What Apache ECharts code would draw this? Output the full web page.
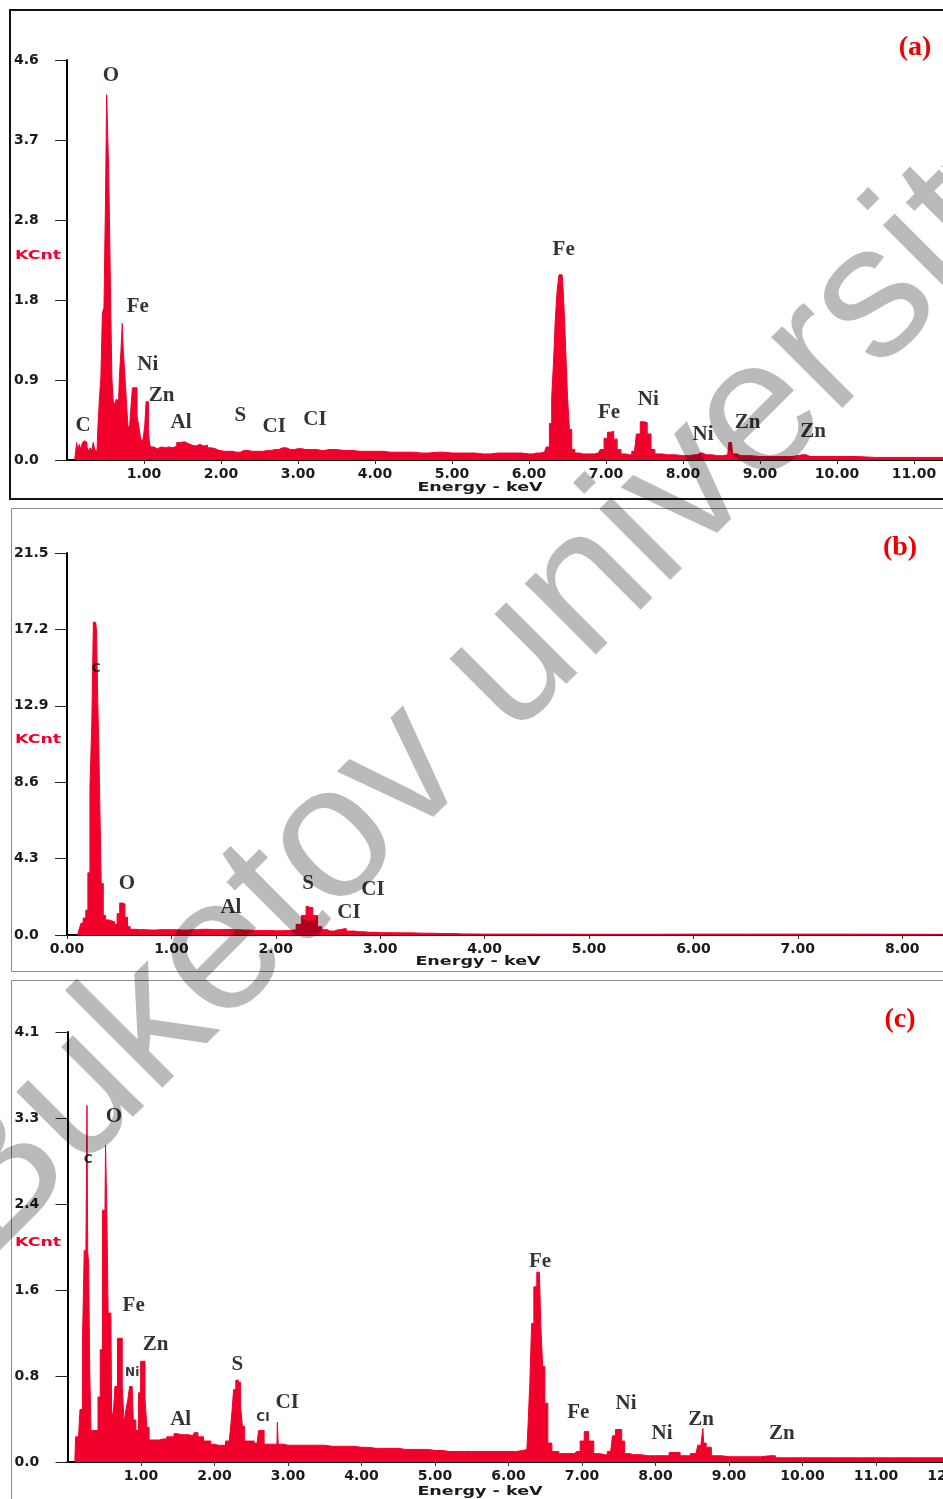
<!DOCTYPE html>
<html>
<head>
<meta charset="utf-8">
<script src="https://cdn.jsdelivr.net/npm/echarts@6/dist/echarts.min.js"></script>
<style>
html,body{margin:0;padding:0;background:#fff;overflow:hidden;}
#chart{width:1000px;height:1499px;}
</style>
</head>
<body>
<div id="chart"></div>
<script>
// ---------- DATA ----------
// Panel (a) spectrum: energy (keV) and counts (KCnt)
const energyA = [0.10,0.12,0.13,0.15,0.17,0.19,0.21,0.23,0.25,0.27,0.29,0.31,0.33,0.35,0.37,0.39,0.41,0.43,0.45,0.47,0.49,0.51,0.52,0.535,0.545,0.56,0.575,0.59,0.61,0.63,0.65,0.67,0.69,0.71,0.725,0.74,0.76,0.78,0.80,0.82,0.84,0.86,0.88,0.90,0.92,0.94,0.96,0.98,1.00,1.02,1.035,1.05,1.065,1.08,1.10,1.15,1.2,1.25,1.3,1.35,1.4,1.45,1.5,1.55,1.6,1.65,1.7,1.75,1.8,1.85,1.9,1.95,2.0,2.1,2.2,2.3,2.4,2.5,2.6,2.7,2.8,2.9,3.0,3.1,3.2,3.3,3.4,3.6,3.8,4.0,4.2,4.4,4.6,4.8,5.0,5.2,5.4,5.6,5.8,6.0,6.1,6.2,6.25,6.28,6.31,6.33,6.35,6.38,6.40,6.43,6.45,6.47,6.49,6.51,6.54,6.57,6.62,6.7,6.8,6.9,6.95,7.0,7.04,7.08,7.12,7.17,7.22,7.3,7.37,7.42,7.47,7.51,7.56,7.61,7.66,7.8,8.0,8.15,8.22,8.3,8.45,8.58,8.61,8.63,8.66,8.75,9.0,9.3,9.55,9.65,10.0,10.5,11.0,11.5];
const countsA = [0,0,0.2,0.12,0.18,0.12,0.2,0.22,0.2,0.15,0.1,0.14,0.1,0.2,0.12,0.1,0.35,0.69,0.95,1.69,1.75,3.0,4.2,4.2,3.37,2.7,1.78,0.95,0.68,0.63,0.7,0.68,0.95,1.25,1.57,1.23,1.0,0.7,0.4,0.35,0.6,0.83,0.83,0.83,0.5,0.4,0.28,0.2,0.25,0.4,0.67,0.67,0.35,0.18,0.15,0.13,0.15,0.14,0.15,0.14,0.16,0.2,0.21,0.19,0.17,0.16,0.18,0.16,0.17,0.14,0.13,0.11,0.1,0.1,0.09,0.11,0.1,0.1,0.11,0.12,0.14,0.12,0.13,0.12,0.12,0.11,0.12,0.11,0.1,0.1,0.09,0.09,0.08,0.09,0.08,0.08,0.07,0.08,0.08,0.07,0.08,0.09,0.15,0.42,0.73,1.15,1.59,1.95,2.13,2.13,2.01,1.65,1.19,0.73,0.35,0.12,0.08,0.07,0.07,0.08,0.12,0.25,0.32,0.33,0.24,0.12,0.07,0.06,0.1,0.3,0.44,0.43,0.3,0.12,0.07,0.06,0.05,0.06,0.08,0.06,0.05,0.06,0.2,0.2,0.07,0.05,0.04,0.04,0.06,0.04,0.04,0.03,0.03,0.03];

// Panel (b) spectrum
const energyB = [0.10,0.13,0.14,0.17,0.19,0.21,0.23,0.245,0.26,0.275,0.29,0.30,0.31,0.32,0.335,0.36,0.38,0.41,0.44,0.47,0.49,0.52,0.54,0.57,0.59,0.62,0.7,0.8,0.9,1.0,1.1,1.2,1.3,1.4,1.5,1.6,1.7,1.8,1.9,2.0,2.1,2.17,2.22,2.27,2.31,2.33,2.38,2.42,2.46,2.52,2.6,2.65,2.7,2.8,2.9,3.0,3.2,3.4,3.6,3.8,4.0,5.0,6.0,7.0,8.0,8.5];
const countsB = [0,0.3,0.67,0.95,1.4,3.5,8.35,11.9,17.6,17.6,17.1,13.0,10.5,7.2,2.9,1.1,0.85,0.8,0.75,0.6,1.2,1.8,1.75,1.0,0.47,0.32,0.3,0.28,0.3,0.3,0.28,0.3,0.32,0.3,0.31,0.3,0.28,0.26,0.25,0.24,0.25,0.28,0.6,1.1,1.6,1.55,1.1,0.47,0.3,0.22,0.3,0.35,0.22,0.18,0.15,0.13,0.12,0.1,0.08,0.06,0.05,0.04,0.05,0.05,0.04,0.04];

// Panel (c) spectrum
const energyC = [0.10,0.12,0.15,0.19,0.215,0.24,0.26,0.27,0.28,0.295,0.31,0.33,0.37,0.40,0.43,0.46,0.49,0.51,0.525,0.545,0.56,0.59,0.61,0.63,0.66,0.70,0.73,0.76,0.78,0.81,0.83,0.86,0.88,0.91,0.95,0.98,1.01,1.04,1.07,1.09,1.13,1.2,1.3,1.4,1.5,1.55,1.6,1.7,1.75,1.8,1.9,2.0,2.05,2.1,2.2,2.23,2.25,2.27,2.31,2.34,2.37,2.39,2.43,2.5,2.58,2.62,2.66,2.69,2.8,2.85,2.86,2.875,3.0,3.2,3.4,3.6,3.8,4.0,4.2,4.4,4.6,4.8,5.0,5.2,5.4,5.6,5.8,6.0,6.2,6.25,6.28,6.30,6.33,6.36,6.41,6.43,6.45,6.48,6.51,6.56,6.62,6.75,6.9,6.95,7.0,7.06,7.12,7.2,7.3,7.39,7.44,7.47,7.52,7.56,7.6,7.7,7.9,8.1,8.27,8.4,8.55,8.6,8.64,8.65,8.66,8.72,8.8,9.0,9.3,9.56,9.7,10.0,10.5,11.0,11.5,12.1];
const countsC = [0,0.24,0.24,0.5,1.1,2.02,2.0,3.4,2.0,1.9,0.88,0.3,0.3,0.3,0.62,1.07,2.4,2.4,3.02,2.4,1.42,1.42,0.5,0.42,0.72,1.18,1.18,0.72,0.37,0.5,0.59,0.72,0.72,0.4,0.3,0.66,0.96,0.96,0.6,0.33,0.21,0.21,0.22,0.24,0.27,0.26,0.26,0.25,0.28,0.24,0.2,0.17,0.16,0.16,0.2,0.3,0.5,0.69,0.78,0.76,0.53,0.34,0.2,0.2,0.18,0.3,0.3,0.17,0.17,0.17,0.38,0.17,0.16,0.16,0.16,0.15,0.15,0.14,0.13,0.13,0.12,0.12,0.11,0.1,0.1,0.1,0.1,0.1,0.11,0.12,0.34,0.75,1.32,1.67,1.81,1.81,1.29,0.91,0.56,0.18,0.1,0.08,0.08,0.1,0.2,0.29,0.2,0.08,0.07,0.1,0.25,0.31,0.31,0.2,0.08,0.07,0.06,0.06,0.09,0.06,0.08,0.16,0.18,0.32,0.18,0.14,0.06,0.05,0.05,0.06,0.04,0.04,0.04,0.04,0.04,0.04];

// Y tick labels
const yTicksA = ['0.0','0.9','1.8','2.8','3.7','4.6'];
const yTicksB = ['0.0','4.3','8.6','12.9','17.2','21.5'];
const yTicksC = ['0.0','0.8','1.6','2.4','3.3','4.1'];

// Peak labels: text, energy, height (KCnt)
const peakTextA = ['C','O','Fe','Ni','Zn','Al','S','CI','CI','Fe','Fe','Ni','Ni','Zn','Zn'];
const peakEA    = [0.21,0.57,0.92,1.05,1.23,1.48,2.25,2.69,3.22,6.45,7.04,7.55,8.26,8.84,9.69];
const peakVA    = [0.40,4.42,1.76,1.10,0.74,0.43,0.51,0.38,0.46,2.42,0.54,0.69,0.29,0.43,0.33];

const peakTextB = ['O','Al','S','CI','CI'];
const peakEB    = [0.575,1.57,2.31,2.93,2.70];
const peakVB    = [2.87,1.52,2.87,2.53,1.29];
const smallTextB = ['C'];
const smallEB    = [0.28];
const smallVB    = [15.0];

const peakTextC = ['O','Fe','Zn','Al','S','CI','Fe','Fe','Ni','Ni','Zn','Zn'];
const peakEC    = [0.63,0.90,1.20,1.54,2.31,2.99,6.43,6.95,7.60,8.09,8.62,9.72];
const peakVC    = [3.29,1.49,1.12,0.40,0.93,0.57,1.91,0.47,0.56,0.27,0.40,0.27];
const smallTextC = ['C','Ni','CI'];
const smallEC    = [0.28,0.88,2.66];
const smallVC    = [2.88,0.85,0.42];

// ---------- CHART ----------
const RED = '#f1002c';
const chart = echarts.init(document.getElementById('chart'), null, {renderer:'canvas'});

function zip(xs, ys){ return xs.map((x,i)=>[x, ys[i]]); }

const axisFont = {fontFamily:'DejaVu Sans', fontWeight:'bold', fontSize:14, color:'#1a1a1a'};

const grids = [
  {left:67, top:60, width:11.4*77, height:400},
  {left:67, top:553, width:8.5*104.4, height:382},
  {left:67.5, top:1032, width:12.1*73.5, height:430}
];
const xMax = [11.4, 8.5, 12.1];
const yMax = [4.6, 21.5, 4.1];
const yInt = [0.92, 4.3, 0.82];
const yTicks = [yTicksA, yTicksB, yTicksC];

const xAxes = xMax.map((m,i)=>({
  type:'value', gridIndex:i, min:0, max:m, interval:1,
  splitLine:{show:false},
  axisLine:{show:true, onZero:false, lineStyle:{color:'#000', width:2}},
  axisTick:{show:true, length:4, lineStyle:{color:'#333', width:1}},
  axisLabel:Object.assign({show:true, margin:7, showMinLabel: i===1, showMaxLabel:false,
    formatter:(v)=>v.toFixed(2)}, axisFont)
}));
const yAxes = yMax.map((m,i)=>({
  type:'value', gridIndex:i, min:0, max:m, interval:yInt[i],
  splitLine:{show:false},
  axisLine:{show:true, lineStyle:{color:'#000', width:2}},
  axisTick:{show:true, length:12, lineStyle:{color:'#222', width:1}},
  axisLabel:Object.assign({show:true, align:'left', margin:53, showMaxLabel:true,
    formatter:(v)=>yTicks[i][Math.round(v/yInt[i])]}, axisFont)
}));

function spectrum(i, xs, ys){
  return {type:'line', xAxisIndex:i, yAxisIndex:i, data:zip(xs,ys), showSymbol:false, symbol:'none',
    step:'middle',
    lineStyle:{color:RED, width:1}, areaStyle:{color:RED, opacity:1}, itemStyle:{color:RED},
    silent:true, animation:false, z:2};
}
function labels(i, texts, xs, ys, small){
  return {type:'scatter', xAxisIndex:i, yAxisIndex:i, symbolSize:1,
    itemStyle:{color:'rgba(0,0,0,0)'},
    silent:true, animation:false, z:5,
    data: texts.map((t,k)=>({name:t, value:[xs[k], ys[k]]})),
    label:{show:true, position:'inside', formatter:(p)=>p.name,
      fontFamily: small ? 'DejaVu Sans' : 'Liberation Serif',
      textBorderWidth:0, textShadowBlur:0,
      fontWeight:'bold', fontSize: small ? 12 : 21, color:'#000'}};
}

const wmFont = 'normal 190px "Liberation Sans", Arial, sans-serif';
function txt(x, y, text, font, fill, sx, align){
  return {type:'text', x:x, y:y, scaleX:sx||1, z:10, silent:true,
    style:{text:text, font:font, fill:fill, align:align||'center', verticalAlign:'middle'}};
}

chart.setOption({
  backgroundColor:'#fff',
  animation:false,
  grid: grids.map(g=>Object.assign({containLabel:false}, g)),
  xAxis: xAxes,
  yAxis: yAxes,
  series: [
    spectrum(0, energyA, countsA),
    spectrum(1, energyB, countsB),
    spectrum(2, energyC, countsC),
    labels(0, peakTextA, peakEA, peakVA, false),
    labels(1, peakTextB, peakEB, peakVB, false),
    labels(1, smallTextB, smallEB, smallVB, true),
    labels(2, peakTextC, peakEC, peakVC, false),
    labels(2, smallTextC, smallEC, smallVC, true)
  ],
  graphic: [
    {type:'rect', shape:{x:10, y:10, width:980, height:489}, style:{fill:null, stroke:'#111', lineWidth:2}, z:0, silent:true},
    {type:'rect', shape:{x:11.5, y:508.5, width:980, height:463}, style:{fill:null, stroke:'#8a8a8a', lineWidth:1}, z:0, silent:true},
    {type:'rect', shape:{x:11.5, y:980.5, width:980, height:560}, style:{fill:null, stroke:'#8a8a8a', lineWidth:1}, z:0, silent:true},
    txt(15, 256, 'KCnt', 'bold 12px "DejaVu Sans"', RED, 1.45, 'left'),
    txt(15, 740, 'KCnt', 'bold 12px "DejaVu Sans"', RED, 1.45, 'left'),
    txt(15, 1243, 'KCnt', 'bold 12px "DejaVu Sans"', RED, 1.45, 'left'),
    txt(480, 488, 'Energy - keV', 'bold 13px "DejaVu Sans"', '#1a1a1a', 1.35),
    txt(478, 962, 'Energy - keV', 'bold 13px "DejaVu Sans"', '#1a1a1a', 1.35),
    txt(480, 1492, 'Energy - keV', 'bold 13px "DejaVu Sans"', '#1a1a1a', 1.35),
    txt(915, 48, '(a)', 'bold 28px "Liberation Serif"', '#ee0000'),
    txt(900, 548, '(b)', 'bold 28px "Liberation Serif"', '#ee0000'),
    txt(900, 1020, '(c)', 'bold 28px "Liberation Serif"', '#ee0000'),
    {type:'text', x:497, y:679, rotation:Math.PI/4, z:100, silent:true,
     style:{text:'Buketov university', fill:'rgba(0,0,0,0.27)', font:wmFont, align:'center', verticalAlign:'middle'}}
  ]
});
</script>
</body>
</html>
